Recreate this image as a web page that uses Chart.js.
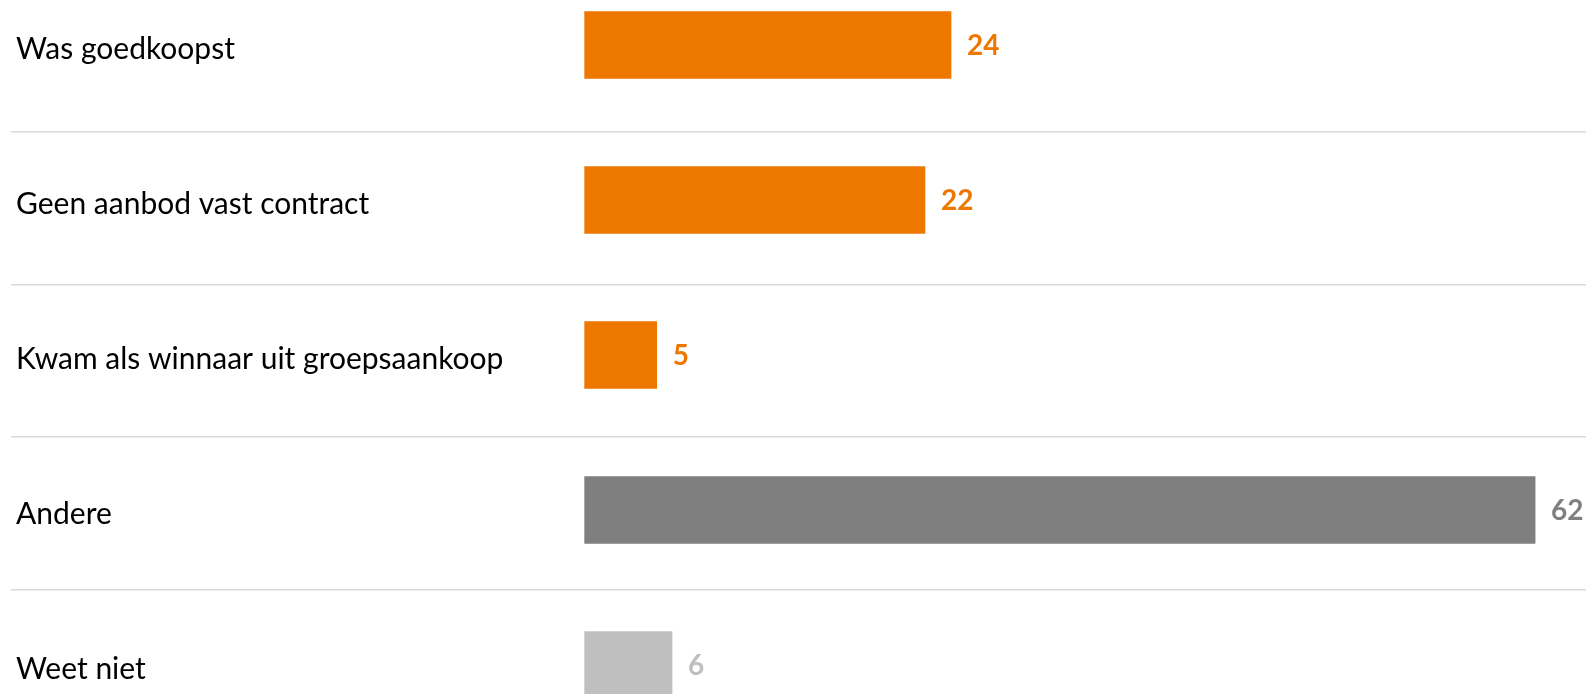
<!DOCTYPE html>
<html>
<head>
<meta charset="utf-8">
<script src="https://cdn.jsdelivr.net/npm/chart.js@4/dist/chart.umd.min.js"></script>
<style>
  html, body { margin: 0; padding: 0; background: #ffffff; }
  #wrap { position: relative; width: 1586px; height: 694px; }
</style>
</head>
<body>
<div id="wrap"><canvas id="c"></canvas></div>
<script>
// ---- Data ----
const categories = [
  'Was goedkoopst',
  'Geen aanbod vast contract',
  'Kwam als winnaar uit groepsaankoop',
  'Andere',
  'Weet niet'
];
const values = [23.9, 22.2, 4.7, 62.0, 5.7];
const valueLabels = ['24', '22', '5', '62', '6'];
const barColors = ['#EE7700', '#EE7700', '#EE7700', '#7F7F7F', '#BFBFBF'];
const separatorTicks = [0, -1, -2, -3];

const LABEL_FONT = 'Lato';

const valueLabelPlugin = {
  id: 'valueLabels',
  afterDatasetsDraw(chart) {
    const ctx = chart.ctx;
    const meta = chart.getDatasetMeta(0);
    ctx.save();
    ctx.font = 'bold 28px ' + LABEL_FONT;
    ctx.textAlign = 'left';
    ctx.textBaseline = 'middle';
    meta.data.forEach((bar, i) => {
      ctx.fillStyle = barColors[i];
      ctx.fillText(valueLabels[i], bar.x + 16, bar.y + 1);
    });
    ctx.restore();
  }
};

new Chart(document.getElementById('c'), {
  type: 'bar',
  data: {
    labels: categories,
    datasets: [{
      data: values,
      backgroundColor: barColors,
      borderWidth: 0,
      barThickness: 67,
      clip: false
    }]
  },
  options: {
    indexAxis: 'y',
    responsive: true,
    maintainAspectRatio: false,
    animation: false,
    layout: { padding: { top: 45, bottom: 29, left: 1, right: 0 } },
    plugins: {
      legend: { display: false },
      tooltip: { enabled: false }
    },
    scales: {
      x: {
        type: 'linear',
        display: false,
        min: -37.42,
        max: 65.32
      },
      y: {
        type: 'category',
        position: 'left',
        offset: false,
        grid: { display: false, drawTicks: false },
        border: { display: false },
        ticks: {
          mirror: true,
          padding: 5,
          labelOffset: 4,
          color: '#000000',
          font: { family: LABEL_FONT, size: 30 }
        }
      },
      sep: {
        type: 'linear',
        axis: 'y',
        position: 'right',
        offset: false,
        min: -3.497,
        max: 0.571,
        afterBuildTicks(scale) {
          scale.ticks = separatorTicks.map(v => ({ value: v }));
        },
        ticks: { display: false },
        border: { display: false },
        grid: {
          offset: false,
          drawTicks: false,
          lineWidth: 1.5,
          color: '#D9D9D9'
        }
      }
    }
  },
  plugins: [valueLabelPlugin]
});
</script>
</body>
</html>
